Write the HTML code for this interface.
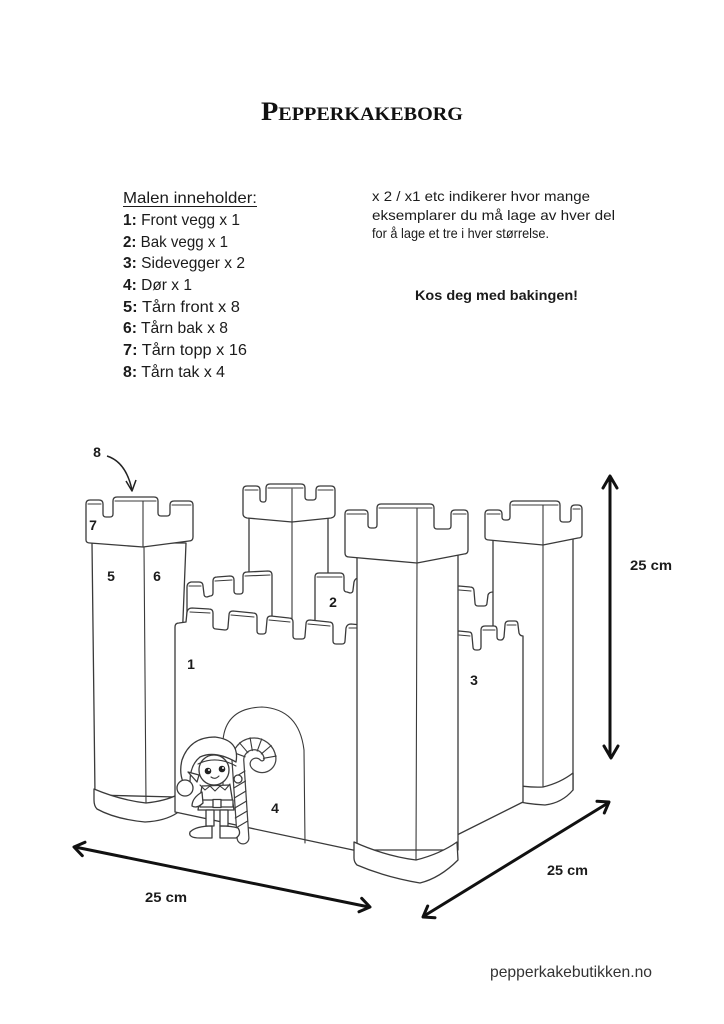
<!DOCTYPE html>
<html><head><meta charset="utf-8">
<style>
html,body{margin:0;padding:0;background:#fff;}
svg{display:block;}
.t{font-family:"Liberation Sans",sans-serif;fill:#1b1b1b;}
.c{fill:#fff;stroke:#3a3a3a;stroke-width:1.3;stroke-linejoin:round;stroke-linecap:round;}
.l{fill:none;stroke:#3a3a3a;stroke-width:1.1;stroke-linecap:round;stroke-linejoin:round;}
.a{fill:none;stroke:#111;stroke-width:3;stroke-linecap:round;stroke-linejoin:round;}
.b{font-family:"Liberation Sans",sans-serif;font-weight:bold;fill:#1b1b1b;font-size:14px;}
</style></head><body>
<svg width="724" height="1024" viewBox="0 0 724 1024" xmlns="http://www.w3.org/2000/svg">
<rect width="724" height="1024" fill="#fff"/>

<!-- Title -->
<text x="261" y="120" textLength="202" lengthAdjust="spacingAndGlyphs" style="font-family:'Liberation Serif',serif;font-weight:bold;fill:#111"><tspan font-size="26">P</tspan><tspan font-size="18.5">EPPERKAKEBORG</tspan></text>

<!-- Left list -->
<text class="t" font-size="16" x="123" y="203" textLength="134" lengthAdjust="spacingAndGlyphs">Malen inneholder:</text>
<line x1="123" y1="206.5" x2="257" y2="206.5" stroke="#1b1b1b" stroke-width="1"/>
<text class="t" font-size="16" x="123" y="225" textLength="117" lengthAdjust="spacingAndGlyphs"><tspan font-weight="bold">1:</tspan> Front vegg x 1</text>
<text class="t" font-size="16" x="123" y="247" textLength="105" lengthAdjust="spacingAndGlyphs"><tspan font-weight="bold">2:</tspan> Bak vegg x 1</text>
<text class="t" font-size="16" x="123" y="268" textLength="122" lengthAdjust="spacingAndGlyphs"><tspan font-weight="bold">3:</tspan> Sidevegger x 2</text>
<text class="t" font-size="16" x="123" y="290" textLength="69" lengthAdjust="spacingAndGlyphs"><tspan font-weight="bold">4:</tspan> Dør x 1</text>
<text class="t" font-size="16" x="123" y="312" textLength="117" lengthAdjust="spacingAndGlyphs"><tspan font-weight="bold">5:</tspan> Tårn front x 8</text>
<text class="t" font-size="16" x="123" y="333" textLength="105" lengthAdjust="spacingAndGlyphs"><tspan font-weight="bold">6:</tspan> Tårn bak x 8</text>
<text class="t" font-size="16" x="123" y="355" textLength="124" lengthAdjust="spacingAndGlyphs"><tspan font-weight="bold">7:</tspan> Tårn topp x 16</text>
<text class="t" font-size="16" x="123" y="377" textLength="102" lengthAdjust="spacingAndGlyphs"><tspan font-weight="bold">8:</tspan> Tårn tak x 4</text>

<!-- Right text -->
<text class="t" font-size="14" x="372" y="201" textLength="218" lengthAdjust="spacingAndGlyphs">x 2 / x1 etc indikerer hvor mange</text>
<text class="t" font-size="14" x="372" y="220" textLength="243" lengthAdjust="spacingAndGlyphs">eksemplarer du må lage av hver del</text>
<text class="t" font-size="14" x="372" y="238" textLength="177" lengthAdjust="spacingAndGlyphs">for å lage et tre i hver størrelse.</text>
<text class="t" font-size="14" font-weight="bold" x="415" y="300" textLength="163" lengthAdjust="spacingAndGlyphs">Kos deg med bakingen!</text>

<!-- Tower B (back-left) -->
<path class="c" d="M249,517 L249,700 L328,700 L328,517 Z"/>
<path class="l" d="M292,522 L292,700"/>
<path class="c" d="M243,514 L243,490 Q243,486 247,486 L256,486 Q260,486 260,490 L260,499 Q260,502 263,502 L264,502 Q266,502 266,499 L266,488 Q266,484 270,484 L301,484 Q305,484 305,488 L305,497 Q305,500 308,500 L313,500 Q316,500 316,497 L316,490 Q316,486 320,486 L331,486 Q335,486 335,490 L335,514 Q335,517 331,518 L292,522 L247,518 Q243,517 243,514 Z"/>
<path class="l" d="M245,490 L258,490 M268,488 L303,488 M318,490 L333,490 M292,489 L292,522"/>

<!-- back-right upper wall segment -->
<path class="c" d="M455,700 L455,589 Q455,586 459,586 L470,587 Q474,587 474,591 L475,603 Q475,606 478,606 L484,606 Q487,606 487,603 L488,595 Q489,592 493,592 L500,592 L500,700 Z"/>
<path class="l" d="M459,590 L471,591"/>

<!-- Tower D (back-right) -->
<path class="c" d="M493,540 L493,790 L573,790 L573,538 Z"/>
<path class="l" d="M543,545 L543,787"/>
<path class="c" d="M500,782 Q525,788 543,787 Q560,783 573,773 L573,790 Q562,803 545,805 Q522,804 500,797 Z"/>
<path class="c" d="M485,537 L485,514 Q485,510 489,510 L498,510 Q502,510 502,514 L502,517 Q502,520 505,520 L507,520 Q510,520 510,517 L510,505 Q510,501 514,501 L556,501 Q560,501 560,505 L560,519 Q560,522 563,522 L568,522 Q571,522 571,519 L571,509 Q571,505 575,505 L578,505 Q582,505 582,509 L582,535 Q582,538 578,538 L543,545 L489,540 Q485,540 485,537 Z"/>
<path class="l" d="M487,514 L500,514 M512,505 L558,505 M573,509 L580,509 M543,505 L543,545"/>

<!-- back-left wall -->
<path class="c" d="M187,700 L187,587 Q187,583 191,582 L199,582 Q203,582 203,586 L204,594 Q204,597 207,597 L210,596 Q213,596 213,593 L213,581 Q213,577 217,577 L230,576 Q234,576 234,580 L234,591 Q234,594 237,594 L240,594 Q243,594 243,591 L243,576 Q243,572 247,572 L268,571 Q272,571 272,575 L272,700 Z"/>
<path class="l" d="M189,586 L201,586 M215,581 L232,580 M245,576 L270,575"/>

<!-- wall 2 segment -->
<path class="c" d="M315,700 L315,577 Q315,573 319,573 L340,573 Q344,573 344,577 L344,589 Q344,592 347,592 L350,593 Q353,593 353,590 L354,582 Q355,578 359,578 L362,578 L362,700 Z"/>
<path class="l" d="M317,577 L342,577"/>

<!-- Tower A (left) -->
<path class="c" d="M92,543 L95,795 L176,797 L186,543 Z"/>
<path class="l" d="M144,547 L146,803"/>
<path class="c" d="M94,789 Q120,800 146,803 Q165,801 177,795 L177,813 Q165,821 145,822 Q115,819 97,809 Q94,806 94,800 Z"/>
<path class="c" d="M86,540 L86,504 Q86,500 90,500 L99,500 Q103,500 103,504 L103,514 Q103,517 106,517 L110,517 Q113,517 113,514 L113,501 Q113,497 117,497 L154,497 Q158,497 158,501 L158,513 Q158,516 161,516 L167,516 Q170,516 170,513 L170,505 Q170,501 174,501 L189,501 Q193,501 193,505 L193,537 Q193,541 189,541 L143,547 L90,543 Q86,543 86,540 Z"/>
<path class="l" d="M88,504 L101,504 M115,501 L156,501 M172,505 L191,505 M143,501 L143,547"/>

<!-- Front wall 1 -->
<path class="c" d="M175,812 L175,627 Q175,623 179,623 L186,622 L187,612 Q188,608 192,608 L209,609 Q213,609 213,613 L213,626 Q213,629 216,629 L225,630 Q228,630 228,627 L229,615 Q229,611 233,611 L253,613 Q257,613 257,617 L257,631 Q257,634 260,634 L263,634 Q266,634 266,631 L267,620 Q267,616 271,616 L289,618 Q293,618 293,622 L293,636 Q293,639 296,639 L302,639 Q305,639 305,636 L306,624 Q306,620 310,620 L329,622 Q333,622 333,626 L333,641 Q333,644 336,644 L342,644 Q345,644 345,641 L346,628 Q347,624 351,624 L362,625 L362,852 L353,850 Z"/>
<path class="l" d="M190,612 L210,613 M231,615 L254,617 M269,620 L290,622 M308,624 L330,626 M349,628 L360,628"/>

<!-- Wall 3 -->
<path class="c" d="M455,840 L455,634 Q455,631 459,631 L469,632 Q472,632 472,636 L473,647 Q473,650 476,650 L478,650 Q481,650 481,647 L481,630 Q481,626 485,626 L494,626 Q497,626 497,630 L497,637 Q497,640 500,640 L501,640 Q503,640 504,637 L505,625 Q505,621 509,621 L515,621 Q518,621 518,625 L519,633 Q520,636 523,636 L523,802 L457,835 Z"/>
<path class="l" d="M459,635 L470,636 M483,630 L495,630 M507,625 L516,625"/>

<!-- Tower C (front-right) -->
<path class="c" d="M357,557 L357,850 L458,850 L458,555 Z"/>
<path class="l" d="M417,562 L416,860"/>
<path class="c" d="M354,842 Q385,856 416,860 Q440,854 457,842 L458,860 Q440,878 420,883 Q385,877 357,865 Q354,862 354,858 Z"/>
<path class="c" d="M345,553 L345,514 Q345,510 349,510 L364,510 Q368,510 368,514 L368,525 Q368,528 371,528 L374,528 Q377,528 377,525 L377,508 Q377,504 381,504 L430,504 Q434,504 434,508 L434,526 Q434,529 437,529 L448,529 Q451,529 451,526 L451,514 Q451,510 455,510 L464,510 Q468,510 468,514 L468,550 Q468,554 464,554 L417,563 L349,557 Q345,557 345,553 Z"/>
<path class="l" d="M347,514 L366,514 M379,508 L432,508 M453,514 L466,514 M417,508 L417,563"/>

<!-- Door -->
<path class="l" d="M223,790 L223,740 Q226,708 262,707 Q299,709 304,750 L305,843"/>

<!-- Candy cane -->
<path d="M243,838 L238,762 A16,16 0 0 1 270,758 A8,8 0 0 1 256,764" fill="none" stroke="#444" stroke-width="13" stroke-linecap="round"/>
<path d="M243,838 L238,762 A16,16 0 0 1 270,758 A8,8 0 0 1 256,764" fill="none" stroke="#fff" stroke-width="10.5" stroke-linecap="round"/>
<path class="l" stroke-width="0.9" d="M233.5,778 L245,771 M233.8,788 L245.5,781 M234.3,798 L246,791 M234.8,808 L246.6,801 M235.3,818 L247.2,811 M235.8,828 L247.7,821 M232.9,752.3 L245.1,756.8 M239.5,742.8 L247.9,752.7 M250.1,737.8 L252.3,750.6 M261.7,738.9 L257.2,751.1 M271.2,745.5 L261.3,753.9 M276.2,756.1 L263.4,758.3"/>

<!-- Elf -->
<circle class="c" cx="214" cy="770" r="15"/>
<path class="c" d="M236,762 Q240,740 215,737 Q190,737 182,760 Q179,772 183,782 L190,782 Q190,765 200,757 Q215,750 236,762 Z"/>
<path class="l" d="M198,764 Q216,755 236,766"/>
<circle class="c" cx="185" cy="788" r="8"/>
<path class="c" d="M199,775 L188,772 L197,782 Z"/>
<circle cx="208" cy="771" r="3.3" fill="#222"/>
<circle cx="222" cy="769" r="3.3" fill="#222"/>
<circle cx="209" cy="770" r="1" fill="#fff"/>
<circle cx="223" cy="768" r="1" fill="#fff"/>
<path class="l" d="M211,777 Q215,780 219,776"/>
<path class="c" d="M202,786 L198,810 L234,810 L230,785 Z"/>
<path class="l" d="M200,785 L205,790 L210,786 L215,791 L220,786 L225,790 L230,784"/>
<rect class="c" x="200" y="800" width="33" height="7"/>
<rect class="c" x="213" y="799.5" width="8" height="8"/>
<path class="c" d="M202,792 Q192,798 192,806 Q197,809 203,803 Z"/>
<circle class="c" cx="238" cy="779" r="4"/>
<rect class="c" x="206" y="810" width="8" height="16"/>
<rect class="c" x="220" y="810" width="8" height="16"/>
<path class="c" d="M212,826 Q196,826 190,832 Q188,838 200,838 L212,838 Z"/>
<path class="c" d="M220,826 L220,838 L236,838 Q242,834 238,828 Q232,826 220,826 Z"/>

<!-- Labels -->
<text class="b" x="97" y="457" text-anchor="middle">8</text>
<text class="b" x="93" y="530" text-anchor="middle">7</text>
<text class="b" x="111" y="581" text-anchor="middle">5</text>
<text class="b" x="157" y="581" text-anchor="middle">6</text>
<text class="b" x="333" y="607" text-anchor="middle">2</text>
<text class="b" x="191" y="669" text-anchor="middle">1</text>
<text class="b" x="474" y="685" text-anchor="middle">3</text>
<text class="b" x="275" y="813" text-anchor="middle">4</text>
<text class="b" x="630" y="570" textLength="42" lengthAdjust="spacingAndGlyphs">25 cm</text>
<text class="b" x="145" y="902" textLength="42" lengthAdjust="spacingAndGlyphs">25 cm</text>
<text class="b" x="547" y="875" textLength="41" lengthAdjust="spacingAndGlyphs">25 cm</text>

<!-- arrow 8 -->
<path d="M107,456 Q126,462 132,490" fill="none" stroke="#222" stroke-width="1.5"/>
<path d="M126,481 L132,491 L136,480" fill="none" stroke="#222" stroke-width="1.5" stroke-linejoin="round"/>

<!-- dimension arrows -->
<path class="a" d="M610,478 L610,756"/>
<path class="a" d="M603,488 L610,476 L617,488"/>
<path class="a" d="M604,746 L611,758 L618,746"/>

<path class="a" d="M75,847 L369,907"/>
<path class="a" d="M82.3,855.7 L74,847 L85,842.2"/>
<path class="a" d="M361.7,898.3 L370,907 L359,911.8"/>

<path class="a" d="M424,916 L608,803"/>
<path class="a" d="M435,917.7 L423,917 L427.7,906"/>
<path class="a" d="M597,801.3 L609,802 L604.3,813"/>

<!-- Footer -->
<text class="t" font-size="16" x="490" y="977" textLength="162" lengthAdjust="spacingAndGlyphs" style="fill:#333">pepperkakebutikken.no</text>
</svg>
</body></html>
